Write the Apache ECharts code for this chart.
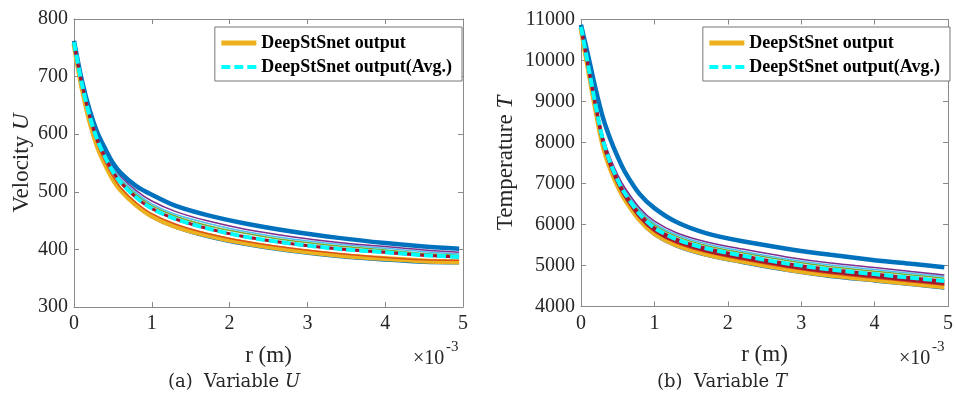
<!DOCTYPE html>
<html><head><meta charset="utf-8">
<script src="https://cdn.jsdelivr.net/npm/echarts@6/dist/echarts.min.js"></script>
<style>html,body{margin:0;padding:0;background:#fff}#c{width:956px;height:393px}</style>
</head><body><div id="c"></div><script>
// radial position r, in units of 1e-3 m
const rVals = [0, 0.1, 0.2, 0.3, 0.4, 0.5, 0.6, 0.8, 1.0, 1.3, 1.7, 2.2, 2.8, 3.4, 4.0, 4.5, 4.95];
const xTicks = [0, 1, 2, 3, 4, 5];

// Velocity U : ensemble members and their average
const uBlueTop   = [762, 694, 642, 603, 575, 550, 533, 510, 495, 476, 460, 445, 431, 420, 411, 405, 401];
const uPurple    = [761, 692, 638, 598, 569, 545, 527, 502, 484, 466, 450, 435, 422, 412, 405, 399, 395];
const uLightBlue = [760, 690, 636, 595, 566, 542, 523, 498, 479, 461, 446, 431, 418, 409, 402, 396, 392];
const uGreen     = [760, 689, 634, 593, 563, 539, 520, 495, 476, 458, 442, 428, 415, 406, 399, 393, 390];
const uMaroon    = [759, 687, 631, 589, 559, 534, 515, 489, 470, 452, 436, 421, 409, 400, 394, 389, 386];
const uRed       = [758, 684, 626, 583, 552, 527, 507, 481, 462, 444, 428, 414, 402, 393, 386, 382, 381];
const uOrange    = [757, 682, 623, 579, 548, 522, 503, 477, 458, 440, 425, 411, 399, 390, 384, 380, 378];
const uBlueLow   = [756, 680, 620, 576, 545, 519, 500, 474, 455, 437, 421, 407, 395, 386, 380, 376, 375];
const uAvg       = [760, 688, 632, 590, 560, 535, 516, 490, 471, 453, 437, 422, 410, 401, 395, 390, 387];

// Temperature T : ensemble members and their average
const tBlueTop   = [10870, 10100, 9300, 8600, 8080, 7650, 7280, 6740, 6400, 6060, 5790, 5590, 5410, 5260, 5130, 5040, 4960];
const tPurple    = [10840, 9900, 8980, 8160, 7620, 7210, 6890, 6400, 6080, 5800, 5580, 5400, 5210, 5060, 4950, 4855, 4770];
const tLightBlue = [10835, 9890, 8960, 8130, 7590, 7180, 6860, 6360, 6030, 5750, 5530, 5350, 5160, 5010, 4900, 4810, 4730];
const tGreen     = [10830, 9880, 8940, 8100, 7560, 7150, 6820, 6320, 5990, 5710, 5490, 5310, 5120, 4970, 4860, 4770, 4690];
const tMaroon    = [10810, 9820, 8860, 8000, 7440, 7020, 6690, 6190, 5860, 5580, 5360, 5180, 4990, 4840, 4730, 4640, 4560];
const tRed       = [10800, 9800, 8830, 7960, 7400, 6980, 6650, 6150, 5820, 5540, 5320, 5140, 4950, 4800, 4690, 4600, 4520];
const tOrange    = [10790, 9780, 8800, 7920, 7360, 6940, 6610, 6110, 5780, 5500, 5280, 5100, 4910, 4760, 4650, 4560, 4480];
const tBlueLow   = [10780, 9750, 8760, 7870, 7310, 6890, 6560, 6060, 5730, 5450, 5230, 5050, 4860, 4710, 4600, 4510, 4425];
const tAvg       = [10820, 9850, 8900, 8050, 7500, 7080, 6750, 6250, 5920, 5640, 5420, 5240, 5050, 4900, 4790, 4700, 4620];

const NAME_OUT = 'DeepStSnet output';
const NAME_AVG = 'DeepStSnet output(Avg.)';

const SERIF = 'Liberation Serif';
const CAPTION_FONT = 'DejaVu Serif';
const AXIS_GRAY = '#8a8a8a';
const TEXT = '#262626';

function pts(vals) { return rVals.map((r, i) => [r, vals[i]]); }

function line(idx, vals, color, width, opts) {
  return Object.assign({
    type: 'line', xAxisIndex: idx * 2, yAxisIndex: idx * 2,
    data: pts(vals), showSymbol: false, symbol: 'none', smooth: 0.3,
    lineStyle: { color: color, width: width }, itemStyle: { color: color },
    silent: true, animation: false, z: 2
  }, opts || {});
}

function panel(idx, s) {
  return [
    line(idx, s.blueLow, '#0072BD', 1.5, { name: 'm1' }),
    line(idx, s.orange, '#EDB120', 5, { name: NAME_OUT }),
    line(idx, s.red, '#D95319', 1.5, { name: 'm3' }),
    line(idx, s.maroonBand, '#A2142F', idx === 1 ? 3 : 1.5, { name: 'm4' }),
    line(idx, s.green, '#77AC30', 1.5, { name: 'm5' }),
    line(idx, s.lightBlue, '#4DBEEE', 1.5, { name: 'm6' }),
    line(idx, s.purple, '#7E2F8E', 1.5, { name: 'm7' }),
    line(idx, s.blueTop, '#0072BD', 4.5, { name: 'm8' }),
    line(idx, s.avg, '#A2142F', 3, { name: 'm9' }),
    line(idx, s.avg, '#00FFFF', 4, { name: NAME_AVG, lineStyle: { color: '#00FFFF', width: 4, type: [9, 4] }, z: 3 })
  ];
}

const uSet = { blueLow: uBlueLow, orange: uOrange, red: uRed, maroonBand: uMaroon, green: uGreen,
  lightBlue: uLightBlue, purple: uPurple, blueTop: uBlueTop, avg: uAvg };
const tSet = { blueLow: tBlueLow, orange: tOrange, red: tRed, maroonBand: tMaroon, green: tGreen,
  lightBlue: tLightBlue, purple: tPurple, blueTop: tBlueTop, avg: tAvg };

function xAx(grid, pos) {
  return {
    type: 'value', gridIndex: grid, position: pos, min: xTicks[0], max: xTicks[xTicks.length - 1], interval: 1,
    axisLine: { show: true, onZero: false, lineStyle: { color: AXIS_GRAY, width: 1 } },
    axisTick: { show: true, inside: true, length: 5, lineStyle: { color: AXIS_GRAY } },
    axisLabel: { show: pos === 'bottom', fontFamily: SERIF, fontSize: 20, color: TEXT, margin: 7,
      formatter: v => String(v) },
    splitLine: { show: false },
    name: pos === 'bottom' ? 'r (m)' : '', nameLocation: 'middle', nameGap: 37, nameMoveOverlap: false,
    nameTextStyle: { fontFamily: SERIF, fontSize: 23, color: TEXT }
  };
}
function yAx(grid, pos, min, max, step, nameRich) {
  return {
    type: 'value', gridIndex: grid, position: pos, min: min, max: max, interval: step,
    axisLine: { show: true, onZero: false, lineStyle: { color: AXIS_GRAY, width: 1 } },
    axisTick: { show: true, inside: true, length: 5, lineStyle: { color: AXIS_GRAY } },
    axisLabel: { show: pos === 'left', fontFamily: SERIF, fontSize: 20, color: TEXT, margin: 6,
      formatter: v => String(v) },
    splitLine: { show: false },
    name: pos === 'left' ? nameRich : '', nameLocation: 'middle', nameMoveOverlap: false,
    nameGap: pos === 'left' ? (grid === 0 ? 41 : 64) : 0,
    nameTextStyle: { fontFamily: SERIF, fontSize: 23, color: TEXT,
      rich: { n: { fontFamily: SERIF, fontSize: 23, color: TEXT }, i: { fontFamily: SERIF, fontSize: 23, fontStyle: 'italic', color: TEXT } } }
  };
}

function legendAt(right) {
  return {
    data: [NAME_OUT, NAME_AVG], orient: 'vertical', right: right, top: 27,
    itemWidth: 35, itemHeight: 14, itemGap: 6, padding: [7, 10, 5, 4],
    backgroundColor: '#fff', borderColor: '#777', borderWidth: 1, borderRadius: 0,
    selectedMode: false,
    textStyle: { fontFamily: SERIF, fontSize: 18, fontWeight: 'bold', color: '#000' },
    lineStyle: { width: 'inherit', type: 'inherit' }, itemStyle: { opacity: 0 }
  };
}

function expLabel(x) {
  return [
    { type: 'text', left: x, top: 349, style: { text: '×10', fontFamily: SERIF, fontSize: 20, fill: TEXT } },
    { type: 'text', left: x + 33, top: 340, style: { text: '-3', fontFamily: SERIF, fontSize: 15, fill: TEXT } }
  ];
}
function caption(cx, tag, sym) {
  return { type: 'text', x: cx, y: 382, style: {
    text: '{a|' + tag + '  Variable }{i|' + sym + '}', align: 'center', verticalAlign: 'middle',
    fontFamily: CAPTION_FONT, fontSize: 18, fill: TEXT,
    rich: { a: { fontFamily: CAPTION_FONT, fontSize: 18, color: TEXT },
            i: { fontFamily: CAPTION_FONT, fontSize: 18, fontStyle: 'italic', color: TEXT } } } };
}

const option = {
  backgroundColor: '#fff',
  animation: false,
  textStyle: { fontFamily: SERIF },
  grid: [
    { left: 74, top: 19, width: 389, height: 288 },
    { left: 581, top: 19.5, width: 368, height: 287 }
  ],
  xAxis: [xAx(0, 'bottom'), xAx(0, 'top'), xAx(1, 'bottom'), xAx(1, 'top')],
  yAxis: [
    yAx(0, 'left', 300, 800, 100, '{n|Velocity }{i|U}'), yAx(0, 'right', 300, 800, 100, ''),
    yAx(1, 'left', 4000, 11000, 1000, '{n|Temperature }{i|T}'), yAx(1, 'right', 4000, 11000, 1000, '')
  ],
  legend: [legendAt(494), legendAt(6)],
  series: panel(0, uSet).concat(panel(1, tSet)),
  graphic: expLabel(413).concat(expLabel(899)).concat([caption(234, '(a)', 'U'), caption(722, '(b)', 'T')])
};

const chart = echarts.init(document.getElementById('c'), null, { renderer: 'canvas' });
chart.setOption(option);
</script></body></html>
